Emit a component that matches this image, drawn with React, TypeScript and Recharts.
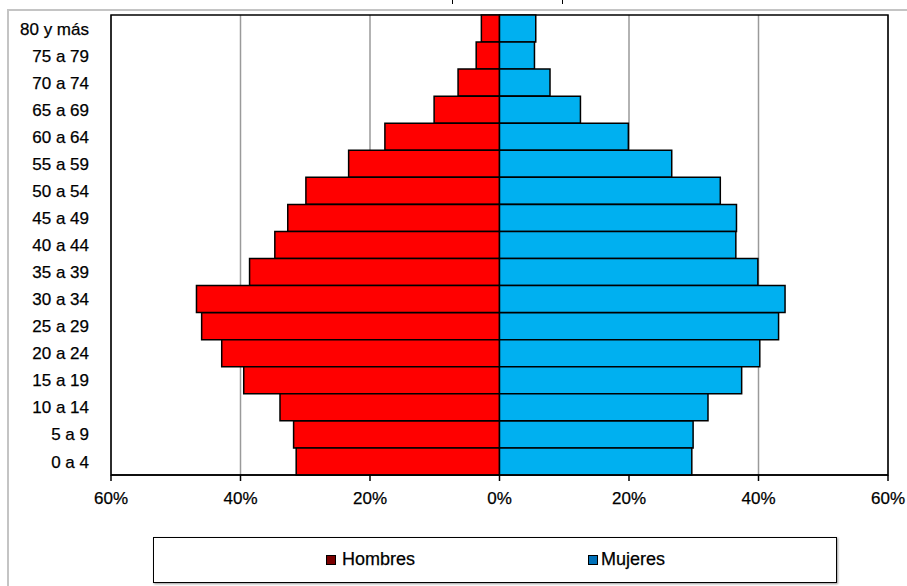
import { BarChart, Bar, XAxis, YAxis, CartesianGrid, ReferenceArea } from 'recharts'

const ageGroups = [
  '80 y más', '75 a 79', '70 a 74', '65 a 69', '60 a 64', '55 a 59', '50 a 54', '45 a 49', '40 a 44',
  '35 a 39', '30 a 34', '25 a 29', '20 a 24', '15 a 19', '10 a 14', '5 a 9', '0 a 4',
]
const hombres = [2.8, 3.6, 6.4, 10.1, 17.7, 23.3, 29.9, 32.7, 34.7, 38.6, 46.8, 46.0, 42.9, 39.5, 33.9, 31.8, 31.4]
const mujeres = [5.6, 5.4, 7.8, 12.5, 19.9, 26.6, 34.1, 36.6, 36.5, 39.9, 44.1, 43.1, 40.2, 37.4, 32.2, 29.9, 29.7]
const xTicks = [-60, -40, -20, 0, 20, 40, 60]

const data = ageGroups.map((grupo, i) => ({ grupo, hombres: -hombres[i], mujeres: mujeres[i] }))

const font = '"Liberation Sans", Arial, sans-serif'
const tickStyle = { fontSize: 17, fill: '#000', stroke: '#000', strokeWidth: 0.25, fontFamily: font }

export default function App() {
  return (
    <div style={{ position: 'fixed', left: 0, top: 0, width: 907, height: 586, overflow: 'hidden', background: '#fff', fontFamily: font }}>
      {/* outer frame of the chart area */}
      <div style={{ position: 'absolute', left: 7, top: 9, width: 920, height: 600, borderLeft: '2px solid #c4c4c4', borderTop: '2px solid #c4c4c4' }} />
      {/* cut-off title box */}
      <div style={{ position: 'absolute', left: 452, top: 0, width: 109, height: 4, borderLeft: '1.5px solid #000', borderRight: '1.5px solid #000' }} />

      <div style={{ position: 'absolute', left: 0, top: 0 }}>
        <BarChart
          width={907}
          height={586}
          data={data}
          layout="vertical"
          stackOffset="sign"
          barCategoryGap={0}
          style={{ overflow: 'visible' }}
          margin={{ top: 15, right: 19, left: 0, bottom: 81 }}
        >
          <CartesianGrid horizontal={false} stroke="#9a9a9a" strokeWidth={1.5} />
          <XAxis
            type="number"
            domain={[-60, 60]}
            ticks={xTicks}
            interval={0}
            tickFormatter={(v: number) => `${Math.abs(v)}%`}
            height={30}
            tickSize={6}
            tickMargin={11}
            axisLine={{ stroke: '#000', strokeWidth: 1.5 }}
            tickLine={{ stroke: '#000', strokeWidth: 1.5 }}
            tick={tickStyle}
          />
          <YAxis
            type="category"
            dataKey="grupo"
            width={111}
            tickSize={0}
            tickMargin={22}
            axisLine={false}
            tickLine={false}
            interval={0}
            tick={tickStyle}
          />
          <Bar dataKey="hombres" stackId="a" fill="#ff0000" stroke="#000" strokeWidth={1.5} isAnimationActive={false} />
          <Bar dataKey="mujeres" stackId="a" fill="#00b0f0" stroke="#000" strokeWidth={1.5} isAnimationActive={false} />
          <ReferenceArea x1={-60} x2={60} fill="none" stroke="#000" strokeWidth={1.5} ifOverflow="visible" />
        </BarChart>
      </div>

      <div
        style={{
          position: 'absolute', left: 153, top: 537, width: 682, height: 44,
          border: '1.5px solid #000', boxShadow: '1px 1px 2px #999',
          fontSize: 18, color: '#000', WebkitTextStroke: '0.25px #000',
        }}
      >
        <div style={{ position: 'absolute', left: 172, top: 11, display: 'flex', alignItems: 'center' }}>
          <span style={{ display: 'inline-block', width: 8, height: 8, background: '#7a0000', border: '1px solid #000', marginRight: 6 }} />
          Hombres
        </div>
        <div style={{ position: 'absolute', left: 434, top: 11, display: 'flex', alignItems: 'center' }}>
          <span style={{ display: 'inline-block', width: 8, height: 8, background: '#0070b8', border: '1px solid #000', marginRight: 3 }} />
          Mujeres
        </div>
      </div>
    </div>
  )
}
